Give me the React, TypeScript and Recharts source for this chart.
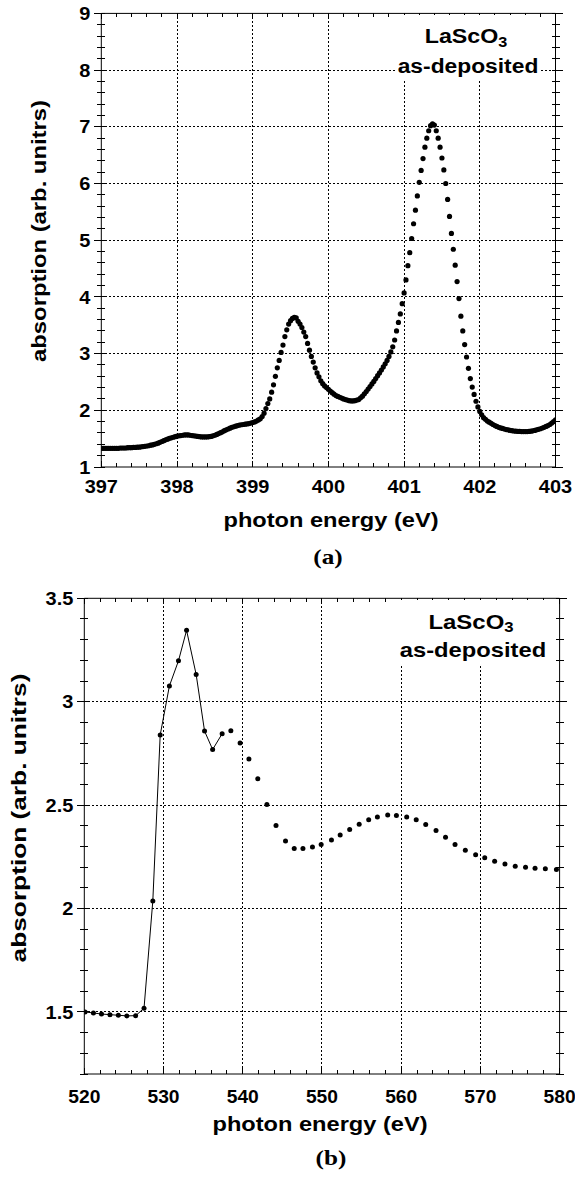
import type { ReactNode } from 'react';
import { CartesianGrid, Line, LineChart, ReferenceLine, XAxis, YAxis } from 'recharts';

// ── panel (a): fine scan, one point every 0.025 eV starting at 397 eV ─────────
const energyStartA = 397;
const energyStepA = 0.025;
const absorptionA = [
  // 397.000
  1.33, 1.33, 1.33, 1.33, 1.33, 1.33, 1.33, 1.33, 1.33, 1.33,
  1.335, 1.335, 1.335, 1.335, 1.34, 1.34, 1.34, 1.345, 1.345, 1.35,
  1.35, 1.355, 1.36, 1.365, 1.37, 1.375, 1.385, 1.39, 1.4, 1.41,
  1.42, 1.435, 1.45, 1.465, 1.48, 1.49, 1.505, 1.515, 1.525, 1.535,
  // 398.000
  1.545, 1.55, 1.555, 1.56, 1.565, 1.565, 1.565, 1.56, 1.555, 1.55,
  1.545, 1.54, 1.535, 1.53, 1.53, 1.53, 1.53, 1.535, 1.54, 1.55,
  1.56, 1.575, 1.59, 1.605, 1.62, 1.64, 1.655, 1.67, 1.685, 1.7,
  1.71, 1.72, 1.73, 1.74, 1.745, 1.75, 1.755, 1.76, 1.765, 1.775,
  // 399.000
  1.785, 1.795, 1.81, 1.83, 1.85, 1.89, 1.95, 2.03, 2.12, 2.2,
  2.32, 2.45, 2.6, 2.75, 2.88, 3.02, 3.15, 3.3, 3.42, 3.52,
  3.58, 3.62, 3.64, 3.63, 3.57, 3.52, 3.46, 3.38, 3.3, 3.18,
  3.06, 2.95, 2.85, 2.75, 2.66, 2.59, 2.52, 2.47, 2.43, 2.4,
  // 400.000
  2.37, 2.34, 2.31, 2.285, 2.26, 2.245, 2.23, 2.215, 2.2, 2.19,
  2.18, 2.17, 2.165, 2.165, 2.17, 2.18, 2.19, 2.22, 2.25, 2.29,
  2.33, 2.375, 2.42, 2.465, 2.51, 2.56, 2.61, 2.66, 2.71, 2.765,
  2.82, 2.88, 2.95, 3.03, 3.12, 3.24, 3.4, 3.55, 3.7, 3.88,
  // 401.000
  4.07, 4.3, 4.55, 4.78, 5.03, 5.29, 5.53, 5.78, 6.02, 6.23,
  6.44, 6.64, 6.8, 6.93, 7.02, 7.05, 7.03, 6.93, 6.8, 6.64,
  6.45, 6.24, 6.0, 5.72, 5.42, 5.12, 4.84, 4.56, 4.27, 3.97,
  3.66, 3.4, 3.16, 2.94, 2.74, 2.56, 2.41, 2.28, 2.16, 2.06,
  // 402.000
  1.98, 1.92, 1.87, 1.84, 1.81, 1.79, 1.77, 1.75, 1.73, 1.715,
  1.7, 1.69, 1.68, 1.67, 1.66, 1.655, 1.645, 1.64, 1.635, 1.632,
  1.63, 1.627, 1.625, 1.624, 1.624, 1.625, 1.628, 1.632, 1.638, 1.645,
  1.655, 1.665, 1.675, 1.688, 1.7, 1.715, 1.73, 1.75, 1.775, 1.8,
  // 403.000
  1.83,
];

const xMajorA = [397, 398, 399, 400, 401, 402, 403];
const yMajorA = [1, 2, 3, 4, 5, 6, 7, 8, 9];
const xGridA = [398, 399, 400, 401, 402];
const yGridA = [2, 3, 4, 5, 6, 7, 8];

// ── panel (b): coarse scan, the first points joined by a thin line ───────────
const energyB = [
  520.09, 521.15, 522.17, 523.24, 524.3, 525.37, 526.48, 527.54, 528.65, 529.58,
  530.74, 531.89, 532.91, 534.12, 535.18, 536.2, 537.4, 538.5, 539.67, 540.78,
  541.9, 543.05, 544.2, 545.4, 546.5, 547.6, 548.8, 549.9, 551.2, 552.3,
  553.5, 554.7, 555.9, 557.0, 558.3, 559.4, 560.7, 561.9, 563.1, 564.4,
  565.6, 566.8, 568.1, 569.4, 570.55, 571.8, 573.1, 574.4, 575.7, 576.9,
  578.2, 579.6,
];
const absorptionB = [
  1.5, 1.495, 1.49, 1.487, 1.484, 1.481, 1.482, 1.518, 2.037, 2.839,
  3.076, 3.198, 3.345, 3.132, 2.858, 2.769, 2.845, 2.86, 2.8, 2.723,
  2.627, 2.503, 2.402, 2.326, 2.29, 2.29, 2.298, 2.31, 2.331, 2.355,
  2.382, 2.408, 2.429, 2.442, 2.452, 2.45, 2.442, 2.429, 2.406, 2.377,
  2.345, 2.31, 2.282, 2.26, 2.245, 2.229, 2.215, 2.205, 2.2, 2.195,
  2.192, 2.189,
];
const lastJoinedB = 16; // the line stops at 537.4 eV

const xMajorB = [520, 530, 540, 550, 560, 570, 580];
const yMajorB = [1.5, 2, 2.5, 3, 3.5];
const xGridB = [530, 540, 550, 560, 570];
const yGridB = [1.5, 2, 2.5, 3];

const sans = "'Liberation Sans', Arial, Helvetica, sans-serif";
const serif = "'Liberation Serif', 'Times New Roman', serif";

function range(from: number, to: number, step: number): number[] {
  const out: number[] = [];
  for (let i = 0; from + i * step <= to + 1e-9; i++) out.push(Math.round((from + i * step) * 1000) / 1000);
  return out;
}

const isMajor = (v: number, majors: number[]) => majors.some((m) => Math.abs(m - v) < 1e-6);

const rowsA = absorptionA.map((absorption, i) => ({
  energy: Math.round((energyStartA + i * energyStepA) * 1000) / 1000,
  absorption,
}));

const rowsB = energyB.map((energy, i) => ({
  energy,
  absorption: absorptionB[i],
  joined: i <= lastJoinedB ? absorptionB[i] : null,
}));

type TickProps = { x: number; y: number; payload: { value: number } };

// bottom ticks point inward, mirrored on the top frame; majors get a label
function xTick(majors: number[], plotHeight: number, labelDy: number, fontSize: number, stretch: number) {
  return ({ x, y, payload }: TickProps) => {
    const major = isMajor(payload.value, majors);
    const len = major ? 6 : 4;
    return (
      <g>
        <line x1={x} x2={x} y1={y} y2={y - len} stroke="#000" shapeRendering="crispEdges" />
        <line x1={x} x2={x} y1={y - plotHeight} y2={y - plotHeight + len} stroke="#000" shapeRendering="crispEdges" />
        {major && (
          <text
            transform={`translate(${x},${y + labelDy}) scale(${stretch},1)`}
            textAnchor="middle"
            fontFamily={sans}
            fontWeight="bold"
            fontSize={fontSize}
            fill="#000"
          >
            {payload.value}
          </text>
        )}
      </g>
    );
  };
}

// left ticks cross the frame, mirrored on the right frame
function yTick(majors: number[], plotWidth: number, labelGap: number, fontSize: number, stretch: number) {
  return ({ x, y, payload }: TickProps) => {
    const major = isMajor(payload.value, majors);
    const out = major ? 7 : 4;
    return (
      <g>
        <line x1={x - out} x2={x + 4} y1={y} y2={y} stroke="#000" shapeRendering="crispEdges" />
        <line x1={x + plotWidth - 4} x2={x + plotWidth + out} y1={y} y2={y} stroke="#000" shapeRendering="crispEdges" />
        {major && (
          <text
            transform={`translate(${x - labelGap},${y + fontSize * 0.36}) scale(${stretch},1)`}
            textAnchor="end"
            fontFamily={sans}
            fontWeight="bold"
            fontSize={fontSize}
            fill="#000"
          >
            {payload.value}
          </text>
        )}
      </g>
    );
  };
}

function Caption(props: { x: number; top: number; size: number; stretch: number; font?: string; children: ReactNode }) {
  return (
    <div style={{ position: 'absolute', left: props.x, top: props.top, width: 0, height: 0 }}>
      <div
        style={{
          position: 'absolute',
          left: 0,
          top: 0,
          transform: `translate(-50%, 0) scaleX(${props.stretch})`,
          whiteSpace: 'nowrap',
          fontFamily: props.font ?? sans,
          fontWeight: 'bold',
          fontSize: props.size,
          lineHeight: 1,
          color: '#000',
        }}
      >
        {props.children}
      </div>
    </div>
  );
}

function SideTitle(props: { x: number; y: number; size: number; stretch: number; children: ReactNode }) {
  return (
    <div style={{ position: 'absolute', left: props.x, top: props.y, width: 0, height: 0 }}>
      <div
        style={{
          position: 'absolute',
          left: 0,
          top: 0,
          transform: `translate(-50%, -50%) rotate(-90deg) scaleX(${props.stretch})`,
          whiteSpace: 'nowrap',
          fontFamily: sans,
          fontWeight: 'bold',
          fontSize: props.size,
          lineHeight: 1,
          color: '#000',
        }}
      >
        {props.children}
      </div>
    </div>
  );
}

function Formula() {
  return (
    <>
      LaScO<span style={{ fontSize: '0.7em', position: 'relative', top: '0.25em' }}>3</span>
    </>
  );
}

const blank = (left: number, top: number, width: number, height: number) => (
  <div style={{ position: 'absolute', left, top, width, height, background: '#fff' }} />
);

export default function App() {
  return (
    <div style={{ position: 'absolute', left: 0, top: 0, width: 575, height: 1180, background: '#fff', overflow: 'hidden' }}>
      {/* panel (a) */}
      <div style={{ position: 'absolute', left: 0, top: 0 }}>
        <LineChart width={575} height={590} data={rowsA} margin={{ top: 13.4, right: 19.5, bottom: 0, left: 0 }}>
          <CartesianGrid
            horizontalValues={yGridA}
            verticalValues={xGridA}
            stroke="#000"
            strokeDasharray="2 2"
            shapeRendering="crispEdges"
          />
          <XAxis
            type="number"
            dataKey="energy"
            domain={[397, 403]}
            allowDataOverflow
            ticks={range(397, 403, 0.2)}
            interval={0}
            height={123}
            tickSize={0}
            tickMargin={0}
            tickLine={false}
            axisLine={{ stroke: '#000' }}
            tick={xTick(xMajorA, 453.6, 25.7, 18.5, 1.08)}
          />
          <YAxis
            type="number"
            domain={[1, 9]}
            allowDataOverflow
            ticks={range(1, 9, 0.2)}
            interval={0}
            width={101.3}
            tickSize={0}
            tickMargin={0}
            tickLine={false}
            axisLine={{ stroke: '#000' }}
            tick={yTick(yMajorA, 454.2, 11, 18.5, 1.08)}
          />
          <ReferenceLine y={9} stroke="#000" />
          <ReferenceLine x={403} stroke="#000" />
          <Line
            dataKey="absorption"
            stroke="none"
            dot={{ r: 2.6, fill: '#000', stroke: 'none' }}
            activeDot={false}
            isAnimationActive={false}
          />
        </LineChart>
      </div>

      {/* panel (b) */}
      <div style={{ position: 'absolute', left: 0, top: 575 }}>
        <LineChart width={575} height={605} data={rowsB} margin={{ top: 23.3, right: 15.4, bottom: 0, left: 0 }}>
          <CartesianGrid
            horizontalValues={yGridB}
            verticalValues={xGridB}
            stroke="#000"
            strokeDasharray="2 2"
            shapeRendering="crispEdges"
          />
          <XAxis
            type="number"
            dataKey="energy"
            domain={[520, 580]}
            allowDataOverflow
            ticks={range(520, 580, 2)}
            interval={0}
            height={106}
            tickSize={0}
            tickMargin={0}
            tickLine={false}
            axisLine={{ stroke: '#000' }}
            tick={xTick(xMajorB, 475.7, 28.7, 18.5, 1.04)}
          />
          <YAxis
            type="number"
            domain={[1.2, 3.5]}
            allowDataOverflow
            ticks={range(1.2, 3.5, 0.1)}
            interval={0}
            width={84.3}
            tickSize={0}
            tickMargin={0}
            tickLine={false}
            axisLine={{ stroke: '#000' }}
            tick={yTick(yMajorB, 475.3, 11, 18.5, 1.08)}
          />
          <ReferenceLine y={3.5} stroke="#000" />
          <ReferenceLine x={580} stroke="#000" />
          <Line
            dataKey="joined"
            stroke="#000"
            strokeWidth={1}
            dot={false}
            activeDot={false}
            connectNulls={false}
            isAnimationActive={false}
          />
          <Line
            dataKey="absorption"
            stroke="none"
            dot={{ r: 2.5, fill: '#000', stroke: 'none' }}
            activeDot={false}
            isAnimationActive={false}
          />
        </LineChart>
      </div>

      {/* sample labels sit on white, hiding the grid behind them */}
      {blank(397, 15, 143, 66)}
      <Caption x={465.5} top={26.4} size={20} stretch={1.16}>
        <Formula />
      </Caption>
      <Caption x={467.5} top={55.6} size={20} stretch={1.14}>
        as-deposited
      </Caption>

      {blank(398, 599.5, 152, 66)}
      <Caption x={471} top={610.5} size={21} stretch={1.14}>
        <Formula />
      </Caption>
      <Caption x={473} top={639.2} size={21} stretch={1.13}>
        as-deposited
      </Caption>

      {/* axis titles */}
      <Caption x={331} top={510.4} size={20} stretch={1.18}>
        photon energy (eV)
      </Caption>
      <SideTitle x={38.5} y={231} size={20} stretch={1.19}>
        absorption (arb. unitrs)
      </SideTitle>
      <Caption x={320} top={1113.8} size={20} stretch={1.18}>
        photon energy (eV)
      </Caption>
      <SideTitle x={18.3} y={818} size={21} stretch={1.25}>
        absorption (arb. unitrs)
      </SideTitle>

      {/* panel letters */}
      <Caption x={328} top={547} size={21} stretch={1.2} font={serif}>
        (a)
      </Caption>
      <Caption x={331} top={1148} size={21} stretch={1.2} font={serif}>
        (b)
      </Caption>
    </div>
  );
}
